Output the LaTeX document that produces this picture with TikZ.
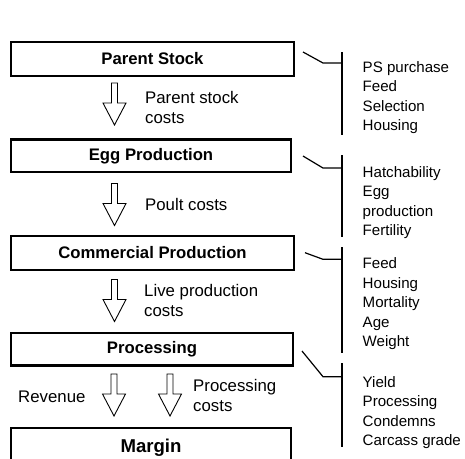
\documentclass[tikz,border=0pt]{standalone}
\usepackage{fontspec}
\setmainfont{Liberation Sans}
\begin{document}
\begin{tikzpicture}[x=1pt,y=-1pt,
  stage/.style={draw,line width=2.3pt,inner sep=0pt,font=\bfseries\fontsize{16.7}{20}\selectfont},
  lbl/.style={inner sep=0pt,anchor=west,align=left,font=\fontsize{16.8}{20}\selectfont},
  lst/.style={inner sep=0pt,anchor=north west,align=left,font=\fontsize{15.1}{19.5}\selectfont},
  brk/.style={line width=1.2pt},
  blockarrow/.pic={\draw[line width=0.9pt,line join=miter] (-3,0)--(-3,20)--(-11.5,20)--(0,42)--(11.5,20)--(3,20)--(3,0)--cycle;}
]
\useasboundingbox (0,0) rectangle (465,458);
\clip (0,0) rectangle (465,458);

% stages
\node[stage,minimum width=282.7pt,minimum height=33.7pt] (ps) at (152.5,59) {Parent Stock};
\node[stage,minimum width=279.7pt,minimum height=32.7pt] (egg) at (151,155.8) {Egg Production};
\node[stage,minimum width=282.7pt,minimum height=33.7pt] (com) at (152.5,253) {Commercial Production};
\node[stage,minimum width=281.7pt,minimum height=32.7pt] (proc) at (152,349.2) {Processing};
\node[stage,minimum width=279.7pt,minimum height=39.7pt,font=\bfseries\fontsize{18.6}{22}\selectfont] (mar) at (151,447.5) {Margin};

% block arrows
\pic at (114.5,83) {blockarrow};
\pic at (114.5,183.5) {blockarrow};
\pic at (114.5,279.5) {blockarrow};
\pic at (114,374) {blockarrow};
\pic at (170,374) {blockarrow};

% arrow labels
\node[lbl] (l1) at (145,107) {Parent stock\\costs};
\node[lbl] (l2) at (145,204) {Poult costs};
\node[lbl] (l3) at (144,300.5) {Live production\\costs};
\node[lbl] (l4) at (18,397) {Revenue};
\node[lbl] (l5) at (193,395) {Processing\\costs};

% factor lists
\node[lst] (f1) at (362.5,61.2) {PS purchase\\Feed\\Selection\\Housing};
\node[lst] (f2) at (362.5,166.2) {Hatchability\\Egg\\production\\Fertility};
\node[lst] (f3) at (362.5,257.8) {Feed\\Housing\\Mortality\\Age\\Weight};
\node[lst] (f4) at (362.5,376.2) {Yield\\Processing\\Condemns\\Carcass grade};

% brackets
\coordinate (a1) at (303,52);  \coordinate (b1) at (323,63);  \coordinate (c1) at (342,63);
\coordinate (t1) at (342,52);  \coordinate (e1) at (342,135);
\coordinate (a2) at (303,156); \coordinate (b2) at (323,168); \coordinate (c2) at (342,168);
\coordinate (t2) at (342,155); \coordinate (e2) at (342,237);
\coordinate (a3) at (305,252.7); \coordinate (b3) at (323,259.3); \coordinate (c3) at (342,259.3);
\coordinate (t3) at (342,247); \coordinate (e3) at (342,353);
\coordinate (a4) at (302,351); \coordinate (b4) at (323,376.7); \coordinate (c4) at (342,376.7);
\coordinate (t4) at (342,363); \coordinate (e4) at (342,446.7);
\foreach \i in {1,2,3,4}{
  \draw[brk] (a\i) -- (b\i) -- (c\i);
  \draw[brk] (t\i) -- (e\i);
}
\end{tikzpicture}
\end{document}
